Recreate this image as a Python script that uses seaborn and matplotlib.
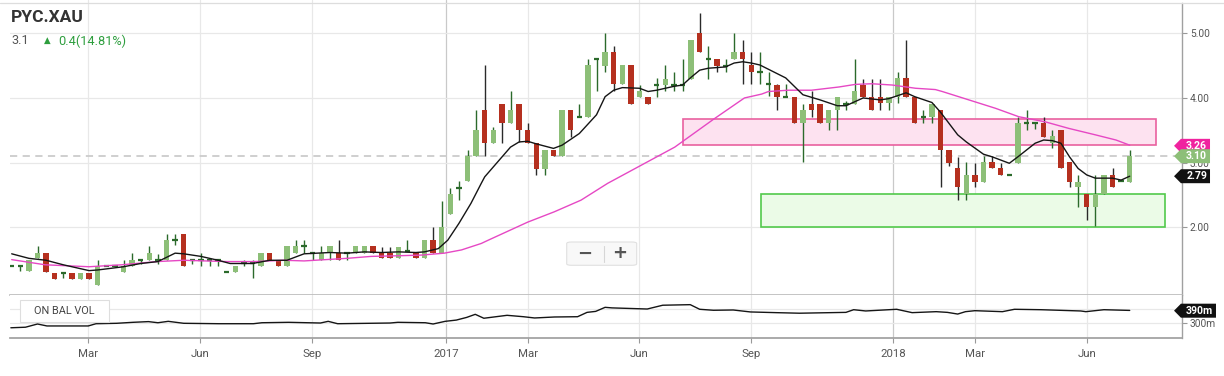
import numpy as np
import matplotlib
matplotlib.use("Agg")
import matplotlib.pyplot as plt
import matplotlib.transforms as mtransforms
from matplotlib.patches import Rectangle, Polygon, FancyBboxPatch
import seaborn as sns

# ---------------- data ----------------
symbol = "PYC.XAU"
last_price = "3.1"
change_text = "0.4(14.81%)"

# weekly candles, one per slot (0..130)
opens = [1.40, 1.40, 1.32, 1.52, 1.61, 1.30, 1.30, 1.30, 1.20, 1.30,
         1.11, 1.40, 1.40, 1.31, 1.40, 1.50, 1.50, 1.50, 1.50, 1.81,
         1.90, 1.50, 1.50, 1.50, 1.50, 1.31, 1.31, 1.45, 1.45, 1.40,
         1.61, 1.50, 1.40, 1.61, 1.71, 1.61, 1.50, 1.61, 1.61, 1.61,
         1.61, 1.61, 1.71, 1.61, 1.61, 1.52, 1.63, 1.61, 1.52, 1.81,
         1.61, 2.21, 2.60, 2.71, 3.10, 3.81, 3.30, 3.91, 3.61, 3.91,
         3.50, 3.30, 2.90, 3.20, 3.10, 3.81, 3.70, 3.71, 4.60, 4.50,
         4.71, 4.21, 4.51, 4.01, 4.01, 4.20, 4.20, 4.20, 4.20, 4.30,
         5.00, 4.60, 4.60, 4.50, 4.60, 4.71, 4.51, 4.40, 4.22, 4.20,
         4.01, 4.01, 3.61, 3.91, 3.91, 3.61, 3.81, 3.91, 3.91, 4.20,
         4.01, 4.01, 3.92, 4.01, 4.31, 4.01, 3.71, 3.71, 3.81, 3.20,
         2.91, 2.51, 2.81, 2.70, 3.01, 2.91, 2.81, 3.00, 3.61, 3.61,
         3.61, 3.31, 3.50, 3.01, 2.62, 2.51, 2.31, 2.51, 2.81, 2.71,
         2.70]
highs = [1.40, 1.40, 1.50, 1.71, 1.61, 1.30, 1.30, 1.30, 1.30, 1.30,
         1.50, 1.40, 1.40, 1.50, 1.61, 1.50, 1.71, 1.58, 1.90, 1.90,
         1.90, 1.50, 1.61, 1.50, 1.50, 1.31, 1.40, 1.50, 1.50, 1.61,
         1.61, 1.50, 1.71, 1.81, 1.81, 1.61, 1.71, 1.71, 1.81, 1.61,
         1.71, 1.71, 1.71, 1.70, 1.70, 1.70, 1.80, 1.61, 1.81, 2.00,
         2.41, 2.60, 2.71, 3.20, 3.81, 4.51, 3.55, 3.91, 4.11, 3.91,
         3.61, 3.30, 3.20, 3.20, 3.81, 3.81, 3.91, 4.60, 4.60, 5.00,
         4.80, 4.51, 4.51, 4.20, 4.01, 4.31, 4.51, 4.40, 4.60, 4.90,
         5.31, 4.80, 4.60, 4.60, 5.00, 4.90, 4.71, 4.71, 4.40, 4.22,
         4.22, 4.01, 3.91, 4.11, 3.91, 3.81, 4.01, 3.96, 4.60, 4.30,
         4.30, 4.30, 4.01, 4.40, 4.90, 4.01, 3.81, 3.91, 3.81, 3.20,
         3.09, 3.01, 3.00, 3.10, 3.10, 3.00, 2.81, 3.71, 3.81, 3.61,
         3.71, 3.50, 3.50, 3.01, 2.81, 2.51, 2.81, 2.81, 2.91, 2.71,
         3.20]
lows = [1.40, 1.32, 1.32, 1.52, 1.31, 1.20, 1.22, 1.20, 1.20, 1.20,
        1.11, 1.40, 1.40, 1.31, 1.40, 1.44, 1.50, 1.44, 1.50, 1.72,
        1.40, 1.44, 1.40, 1.40, 1.40, 1.31, 1.31, 1.40, 1.22, 1.40,
        1.50, 1.40, 1.40, 1.61, 1.61, 1.50, 1.50, 1.50, 1.50, 1.50,
        1.61, 1.61, 1.61, 1.52, 1.52, 1.52, 1.63, 1.52, 1.52, 1.61,
        1.61, 2.21, 2.42, 2.71, 3.10, 3.10, 3.30, 3.30, 3.61, 3.32,
        3.30, 2.81, 2.81, 3.10, 3.10, 3.40, 3.70, 3.71, 4.11, 4.40,
        4.11, 4.21, 3.91, 4.01, 3.91, 4.02, 4.11, 4.11, 4.11, 4.30,
        4.71, 4.30, 4.40, 4.40, 4.60, 4.22, 4.21, 4.21, 4.03, 3.82,
        4.01, 3.61, 3.01, 3.71, 3.61, 3.50, 3.50, 3.81, 3.91, 4.01,
        3.81, 3.81, 3.81, 3.92, 4.01, 3.61, 3.61, 3.61, 2.62, 2.95,
        2.42, 2.42, 2.62, 2.70, 2.91, 2.81, 2.81, 3.00, 3.50, 3.52,
        3.40, 3.22, 2.91, 2.62, 2.31, 2.12, 2.02, 2.51, 2.62, 2.71,
        2.70]
closes = [1.40, 1.40, 1.50, 1.61, 1.31, 1.20, 1.30, 1.20, 1.30, 1.20,
          1.40, 1.40, 1.40, 1.40, 1.50, 1.50, 1.61, 1.50, 1.81, 1.81,
          1.40, 1.50, 1.50, 1.50, 1.50, 1.31, 1.40, 1.45, 1.45, 1.61,
          1.50, 1.40, 1.71, 1.71, 1.71, 1.61, 1.61, 1.71, 1.50, 1.61,
          1.71, 1.71, 1.61, 1.52, 1.52, 1.70, 1.63, 1.52, 1.81, 1.61,
          2.00, 2.51, 2.60, 3.10, 3.50, 3.30, 3.50, 3.61, 3.81, 3.50,
          3.30, 2.90, 3.20, 3.10, 3.81, 3.50, 3.70, 4.51, 4.60, 4.71,
          4.21, 4.51, 3.91, 4.11, 3.91, 4.20, 4.30, 4.20, 4.20, 4.90,
          4.71, 4.60, 4.50, 4.50, 4.71, 4.60, 4.40, 4.40, 4.22, 4.01,
          4.01, 3.61, 3.81, 3.81, 3.61, 3.81, 4.01, 3.91, 4.11, 4.01,
          3.81, 3.92, 4.01, 4.31, 4.01, 3.61, 3.71, 3.91, 3.20, 3.00,
          2.62, 2.81, 2.70, 3.01, 2.91, 2.81, 2.81, 3.61, 3.61, 3.61,
          3.40, 3.41, 2.91, 2.70, 2.70, 2.31, 2.51, 2.81, 2.62, 2.71,
          3.10]

# short moving average (black)
ma_fast_x = [0, 2, 4, 6, 9, 10, 13, 15, 17, 19, 20, 22, 24, 25.4, 28, 30, 32, 34,
             37, 39, 41, 43, 45, 47, 48, 49.6, 50.7, 52, 53.4, 54.6, 55, 58, 59,
             60, 61, 63, 64, 66, 68, 69, 70, 71, 73, 74, 75, 77, 78, 79, 80, 81,
             83, 84, 85, 86, 87, 90, 92, 94, 96, 97, 98, 99, 101, 102, 104, 105,
             107, 108, 110, 111, 113, 114, 115, 116, 117, 119, 120, 121, 122, 123,
             124, 125, 126, 128, 129, 130]
ma_fast_y = [1.59, 1.52, 1.49, 1.42, 1.33, 1.34, 1.39, 1.44, 1.47, 1.60, 1.59, 1.55,
             1.49, 1.44, 1.44, 1.49, 1.49, 1.59, 1.61, 1.60, 1.62, 1.61, 1.62, 1.61,
             1.62, 1.67, 1.80, 2.06, 2.37, 2.68, 2.78, 3.24, 3.32, 3.33, 3.29, 3.22,
             3.27, 3.45, 3.74, 4.02, 4.12, 4.16, 4.15, 4.10, 4.12, 4.18, 4.20, 4.32,
             4.43, 4.46, 4.48, 4.54, 4.56, 4.54, 4.51, 4.31, 4.05, 3.97, 3.88, 3.88,
             3.94, 4.00, 3.97, 3.99, 4.08, 4.02, 3.93, 3.78, 3.43, 3.32, 3.13, 3.09,
             3.04, 2.99, 3.09, 3.30, 3.35, 3.34, 3.30, 3.09, 2.91, 2.81, 2.76, 2.76,
             2.73, 2.79]

# long moving average (magenta)
ma_slow_x = [0, 3.9, 9, 12.8, 16.9, 20, 25, 28.2, 31.7, 34, 39, 41.8, 45, 47.6,
             50.3, 52.3, 54.6, 55.4, 60, 63.1, 66.2, 69.3, 73.2, 77.1, 81.6, 85.2,
             87.2, 88, 90.3, 93, 96.2, 98.1, 100, 102.4, 105.1, 107.4, 108.2,
             111.3, 114.4, 117.1, 120.2, 122.9, 126, 128.4, 130]
ma_slow_y = [1.50, 1.42, 1.39, 1.42, 1.47, 1.49, 1.47, 1.47, 1.49, 1.48, 1.52, 1.55,
             1.56, 1.57, 1.60, 1.65, 1.75, 1.80, 2.08, 2.24, 2.42, 2.68, 2.96, 3.24,
             3.67, 4.00, 4.06, 4.10, 4.12, 4.12, 4.17, 4.21, 4.22, 4.20, 4.15, 4.13,
             4.10, 3.97, 3.84, 3.71, 3.63, 3.53, 3.43, 3.35, 3.27]

# on balance volume (millions)
obv_x = [-0.1, 1.6, 3.0, 4.1, 8.9, 9.8, 12.2, 14.1, 15.9, 17.0, 18.2, 20.0, 24.1,
         28.1, 29.1, 32.2, 35.9, 36.8, 37.9, 44.0, 44.9, 48.1, 49.0, 50.4, 51.7,
         52.9, 53.9, 54.9, 57.6, 59.5, 60.8, 63.1, 65.8, 66.9, 67.9, 69.0, 69.8,
         73.9, 75.7, 78.9, 80.0, 81.6, 83.9, 85.9, 88.9, 91.6, 95.2, 97.0, 97.9,
         99.3, 102.9, 104.7, 107.5, 108.8, 110.0, 110.9, 112.0, 115.2, 116.6,
         119.7, 124.3, 124.9, 127.0, 130.0]
obv_y = [268, 272, 295, 281, 281, 297, 300, 307, 312, 304, 314, 300, 297, 297, 304,
         307, 302, 314, 297, 302, 307, 304, 295, 314, 323, 342, 364, 336, 357, 347,
         338, 345, 347, 378, 385, 414, 410, 402, 429, 433, 400, 393, 395, 381, 376,
         372, 376, 378, 397, 388, 400, 376, 383, 378, 366, 383, 390, 383, 400, 397,
         388, 383, 397, 392]

tick_pos = [8.87, 21.90, 34.92, 50.50, 59.99, 72.94, 86.02, 102.53, 112.05, 125.07]
tick_labels = ["Mar", "Jun", "Sep", "2017", "Mar", "Jun", "Sep", "2018", "Mar", "Jun"]

resistance_zone = [78.0, 133.1, 3.28, 3.67]   # x0, x1, y0, y1
support_zone = [87.1, 134.1, 2.00, 2.51]
last_close = 3.10
price_tags = [("3.26", 3.26, "#f0239f"), ("3.10", 3.10, "#8dbf78"), ("2.79", 2.79, "#111111")]
obv_tag = ("390m", 390)

# ---------------- style ----------------
sns.set_theme(style="white")
plt.rcParams["font.family"] = ["Roboto", "DejaVu Sans"]

GREEN = "#8dbf78"
RED = "#b5301f"
WICK_G = "#2b6a2b"
WICK_R = "#2a2a2a"
GRID = "#e8e8e8"
YEARGRID = "#c9c9c9"

W, H = 1224, 376
fig = plt.figure(figsize=(W / 100, H / 100), dpi=100)
fx = lambda px: px / W
fy = lambda py: 1 - py / H

YBOT, YTOP_BORDER = 0.953, 5.464
YTOP = 5.515  # price at the very top pixel row

ax = fig.add_axes([fx(10), fy(295), 1172 / W, 295 / H])
axv = fig.add_axes([fx(10), fy(338.3), 1172 / W, (338.3 - 295) / H])

XL = (-0.198, 136.08)

# grid
for a in (ax, axv):
    for p, lab in zip(tick_pos, tick_labels):
        a.axvline(p, color=YEARGRID if lab.isdigit() else GRID, lw=0.9, zorder=0)
for v in [2, 3, 4, 5]:
    ax.axhline(v, color=GRID, lw=0.9, zorder=0)
for v in [300, 400]:
    axv.axhline(v, color=GRID, lw=0.9, zorder=0)

# top border line across full width
fig.add_artist(plt.Line2D([0, 1], [fy(3.3), fy(3.3)], color="#dddddd", lw=0.9,
                          transform=fig.transFigure, zorder=1))

# zones
rz = Rectangle((resistance_zone[0], resistance_zone[2]), resistance_zone[1] - resistance_zone[0],
               resistance_zone[3] - resistance_zone[2], facecolor="#fde2f0", edgecolor="#e9619f",
               lw=1.2, zorder=1)
sz = Rectangle((support_zone[0], support_zone[2]), support_zone[1] - support_zone[0],
               support_zone[3] - support_zone[2], facecolor="#ebfbe7", edgecolor="#52c94b",
               lw=1.2, zorder=1)
ax.add_patch(rz)
ax.add_patch(sz)

ax.axhline(last_close, color="#cccccc", lw=1.3, ls=(0, (4, 3)), zorder=2)

# candles
o = np.array(opens); h = np.array(highs); l = np.array(lows); c = np.array(closes)
x = np.arange(len(o))
up = c > o
dn = c < o
dj = c == o
wick_cols = [WICK_R if d else WICK_G for d in dn]
ax.vlines(x, l, h, colors=wick_cols, lw=1.0, zorder=3)
bw = 0.62
ax.bar(x[up], (c - o)[up], bottom=o[up], width=bw, color=GREEN, lw=0, zorder=4)
ax.bar(x[dn], (o - c)[dn], bottom=c[dn], width=bw, color=RED, lw=0, zorder=4)
ax.hlines(c[dj], x[dj] - bw / 2, x[dj] + bw / 2, colors=WICK_G, lw=1.6, zorder=4)

# moving averages
sns.lineplot(x=ma_slow_x, y=ma_slow_y, ax=ax, color="#e648c4", lw=1.0, zorder=5,
             estimator=None, sort=False)
sns.lineplot(x=ma_fast_x, y=ma_fast_y, ax=ax, color="#151515", lw=1.0, zorder=6,
             estimator=None, sort=False)

# OBV
sns.lineplot(x=obv_x, y=obv_y, ax=axv, color="#151515", lw=1.0, zorder=3,
             estimator=None, sort=False)

ax.set_xlim(*XL)
ax.set_ylim(YBOT, YTOP)
axv.set_xlim(*XL)
axv.set_ylim(192.9, 502)

# axes styling
for a in (ax, axv):
    a.set_xlabel("")
    a.set_ylabel("")
    a.spines["left"].set_visible(False)
    a.spines["right"].set_color("#a0a0a0")
    a.spines["right"].set_linewidth(1.0)
    a.yaxis.tick_right()
ax.spines["top"].set_visible(False)
ax.spines["right"].set_bounds(YBOT, YTOP_BORDER)
ax.spines["bottom"].set_color("#bdbdbd")
axv.spines["top"].set_visible(False)
axv.spines["bottom"].set_color("#a0a0a0")

ax.set_xticks([])
ax.set_yticks([2, 3, 4, 5], ["2.00", "3.00", "4.00", "5.00"])
axv.set_yticks([300], ["300m"])
axv.set_xticks(tick_pos, tick_labels)
for a in (ax, axv):
    a.tick_params(axis="y", which="both", right=True, left=False, direction="out",
                  length=3.6, width=0.8, color="#999999", labelsize=7.3,
                  labelcolor="#555555", pad=2)
axv.tick_params(axis="x", bottom=True, direction="out", length=3.6, width=0.8,
                color="#999999", labelsize=8.2, labelcolor="#555555", pad=4)


# price tags
def draw_tag(a, y, text, color, hh, x_right):
    tr = mtransforms.blended_transform_factory(a.transAxes, a.transData)
    tip, sh = 0.9932, 0.9991
    poly = Polygon([(tip, y), (sh, y + hh), (x_right, y + hh), (x_right, y - hh), (sh, y - hh)],
                   closed=True, transform=tr, clip_on=False, facecolor=color,
                   edgecolor="none", zorder=20)
    a.add_patch(poly)
    a.text((sh + x_right) / 2 + 0.001, y, text, transform=tr, ha="center", va="center",
           color="white", fontsize=7.6, fontweight="bold", zorder=21, clip_on=False)


for txt, val, col in price_tags:
    draw_tag(ax, val, txt, col, 0.108, 1.0239)
draw_tag(axv, obv_tag[1], obv_tag[0], "#111111", 50, 1.0290)

# header
fig.text(fx(11), fy(18), symbol, fontsize=12.5, fontweight="bold", color="#333333",
         va="center", ha="left")
fig.text(fx(11), fy(41), last_price, fontsize=9.2, color="#555555", va="center", ha="left")
fig.text(fx(44), fy(40.5), "\u25B2", fontsize=6.2, color="#2e9e3e", va="center", ha="left",
         family=["DejaVu Sans"])
fig.text(fx(58), fy(41), change_text, fontsize=9.2, color="#2e9e3e", va="center", ha="left")

# OBV label box
fig.add_artist(FancyBboxPatch((fx(20), fy(321.7)), fx(108.5) - fx(20), (321.7 - 300) / H,
                              boxstyle="square,pad=0", facecolor="white", edgecolor="#dedede",
                              lw=0.8, transform=fig.transFigure, zorder=30))
fig.text(fx(64), fy(311), "ON BAL VOL", fontsize=7.8, color="#444444", ha="center",
         va="center", zorder=31)

# zoom widget
fig.add_artist(FancyBboxPatch((fx(566.7), fy(265.3)), 70 / W, 23.3 / H,
                              boxstyle="round,pad=0,rounding_size=0.004", facecolor="#f8f8f8",
                              edgecolor="#e0e0e0", lw=0.8, transform=fig.transFigure, zorder=30))
fig.add_artist(plt.Line2D([fx(604), fx(604)], [fy(246), fy(262)], color="#d6d6d6", lw=0.8,
                          transform=fig.transFigure, zorder=31))
fig.text(fx(585), fy(253.5), "\u2212", fontsize=13, fontweight="bold", color="#555555",
         ha="center", va="center", zorder=32, family=["DejaVu Sans"])
fig.text(fx(619.5), fy(253.5), "+", fontsize=13, fontweight="bold", color="#555555",
         ha="center", va="center", zorder=32, family=["DejaVu Sans"])

fig.savefig("out.png", dpi=100)
